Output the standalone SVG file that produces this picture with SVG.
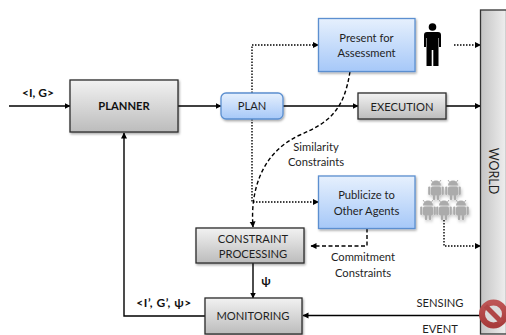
<svg xmlns="http://www.w3.org/2000/svg" width="506" height="335" viewBox="0 0 506 335">
<style>
text{font-family:Lato,"Liberation Sans",sans-serif;font-size:11.2px;fill:#1f1f1f;text-anchor:middle}
.b{font-weight:bold;fill:#111}
.p{font-size:12px}
.w{font-size:12.500px}
.g{fill:url(#gray);stroke:#2c2c2c;stroke-width:1.3;filter:url(#sh)}
.bl{fill:url(#blue);stroke:#5b8fd0;stroke-width:1.3;filter:url(#sh)}
.s{fill:none;stroke:#000;stroke-width:1.4;marker-end:url(#ah)}
.dot{fill:none;stroke:#000;stroke-width:1.4;stroke-dasharray:1.5 1.5;marker-end:url(#ah)}
.das{fill:none;stroke:#000;stroke-width:1.4;stroke-dasharray:4 2.5;marker-end:url(#ah)}
</style>
<defs>
<linearGradient id="gray" x1="0" y1="0" x2="0" y2="1"><stop offset="0" stop-color="#f2f2f2"/><stop offset="1" stop-color="#bcbcbc"/></linearGradient>
<linearGradient id="blue" x1="0" y1="0" x2="0" y2="1"><stop offset="0" stop-color="#e6f0fd"/><stop offset="1" stop-color="#a6c8f8"/></linearGradient>
<linearGradient id="world" x1="0" y1="0" x2="1" y2="0"><stop offset="0" stop-color="#c4c4c4"/><stop offset="1" stop-color="#efefef"/></linearGradient>
<linearGradient id="red" x1="0" y1="0" x2="0" y2="1"><stop offset="0" stop-color="#bd5555"/><stop offset="1" stop-color="#a83c3c"/></linearGradient>
<filter id="sh" x="-10%" y="-10%" width="125%" height="130%"><feDropShadow dx="1" dy="1.5" stdDeviation="1.2" flood-color="#000" flood-opacity="0.35"/></filter>
<filter id="sh2" x="-20%" y="-20%" width="150%" height="150%"><feDropShadow dx="1" dy="2" stdDeviation="1.5" flood-color="#000" flood-opacity="0.25"/></filter>
<marker id="ah" markerWidth="7" markerHeight="7" refX="5.5" refY="3" orient="auto" markerUnits="userSpaceOnUse"><path d="M0,0L6,3L0,6Z" fill="#000"/></marker>
<g id="android" fill="#ababab">
<path d="M-5,-4.500A5,5 0 0 1 5,-4.500Z"/>
<path d="M-3.500,-8L-5,-10M3.500,-8L5,-10" stroke="#ababab" fill="none"/>
<rect x="-5" y="-3.500" width="10" height="9" rx="1.500"/>
<rect x="-7.800" y="-3.500" width="2.200" height="8.500" rx="1.100"/>
<rect x="5.600" y="-3.500" width="2.200" height="8.500" rx="1.100"/>
<rect x="-3.200" y="5" width="2.400" height="5" rx="1"/>
<rect x="0.800" y="5" width="2.400" height="5" rx="1"/>
</g>
</defs>
<g id="connectors">
<path class="s" d="M9,106H70"/>
<path class="s" d="M178,106H221"/>
<path class="s" d="M283,106H358"/>
<path class="s" d="M446,106H480.500"/>
<path class="dot" d="M252,93V45H318.500"/>
<path class="dot" d="M252,119V202H318.500"/>
<path class="dot" d="M454,45H480.500"/>
<path class="dot" d="M444,220V246H480.500"/>
<path class="das" d="M350,71.500C344,110 330,122 300,135C262,152 250,190 253,227"/>
<path class="das" d="M367,228.500V246H311"/>
<path class="s" d="M253,263V298"/>
<path class="s" d="M205,316H124V133"/>
<path class="s" d="M480,315.500H303"/>
</g>
<g id="world"><rect x="480.500" y="10" width="26" height="324" fill="url(#world)" stroke="#333" stroke-width="1.300"/>
<text class="w" transform="translate(488.500,171) rotate(90)">WORLD</text></g>
<g id="planner"><rect class="g" x="70" y="80" width="108" height="52"/><text class="b" x="124" y="110">PLANNER</text></g>
<g id="plan"><rect class="bl" x="221" y="93" width="62" height="26" rx="5"/><text x="252" y="110">PLAN</text></g>
<g id="execution"><rect class="g" x="358" y="93" width="88" height="26"/><text x="402" y="111">EXECUTION</text></g>
<g id="present"><rect class="bl" x="318.500" y="18.500" width="96.500" height="53"/><text x="366.500" y="42">Present for</text><text x="366.500" y="57">Assessment</text></g>
<g id="publicize"><rect class="bl" x="318.500" y="176" width="96.500" height="52.500"/><text x="366.500" y="199">Publicize to</text><text x="366.500" y="215">Other Agents</text></g>
<g id="constraint"><rect class="g" x="196" y="228" width="108" height="35"/><text x="253" y="243">CONSTRAINT</text><text x="253" y="258">PROCESSING</text></g>
<g id="monitoring"><rect class="g" x="205" y="298" width="97" height="36"/><text x="253" y="320">MONITORING</text></g>
<g id="person" fill="#000">
<circle cx="432.500" cy="27" r="3.800"/>
<path d="M427,32H438Q441,32 441,35V47H439V38H438.500V66H433.300V50H431.700V66H426.500V38H426V47H424V35Q424,32 427,32Z"/>
</g>
<g id="agents" filter="url(#sh2)">
<use href="#android" x="436" y="190"/><use href="#android" x="453" y="190"/>
<use href="#android" x="428" y="210"/><use href="#android" x="444" y="210"/><use href="#android" x="461" y="210"/>
</g>
<g id="stop">
<circle cx="493.500" cy="314" r="11.500" fill="#dcdcdc" stroke="url(#red)" stroke-width="6"/>
<path d="M485.500,306L501.500,322" stroke="#b04646" stroke-width="5"/>
</g>
<g id="labels">
<text class="b p" x="38" y="97">&lt;I, G&gt;</text>
<text x="316" y="151">Similarity</text>
<text x="316" y="166">Constraints</text>
<text x="363" y="261">Commitment</text>
<text x="363" y="277">Constraints</text>
<text class="b p" x="266" y="285">ψ</text>
<text class="b p" x="164" y="307" style="letter-spacing:.5px">&lt;I’, G’, ψ&gt;</text>
<text x="440" y="307">SENSING</text>
<text x="440" y="333">EVENT</text>
</g>
</svg>
